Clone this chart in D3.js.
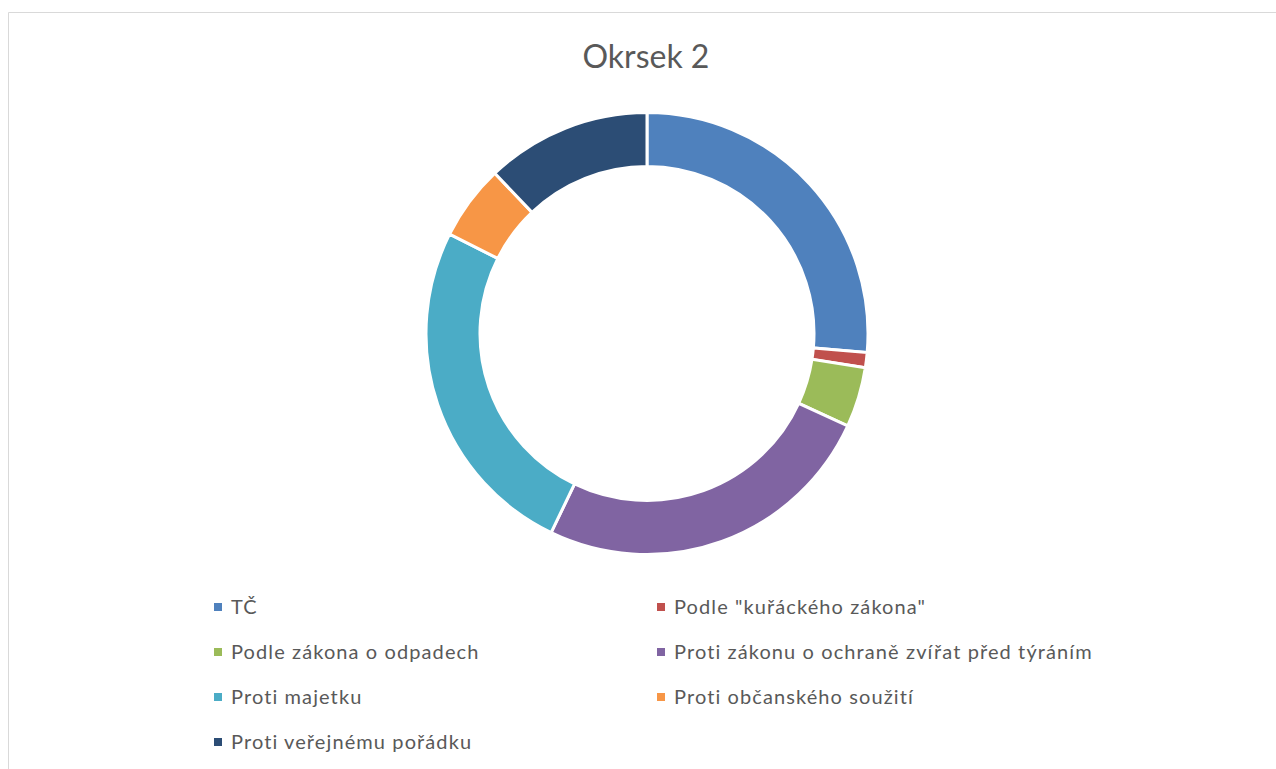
<!DOCTYPE html>
<html>
<head>
    <meta charset="utf-8">
    <title>Okrsek 2</title>
    <style>
        body { margin: 0; background: #fff; }
        .title { font-family: Lato, "Liberation Sans", sans-serif; fill: #595959; }
        .legend text { font-family: Lato, "Liberation Sans", sans-serif; fill: #595959; letter-spacing: 1.1px; }
    </style>
</head>
<body>
    <div class="viz"></div>
    <script src="https://cdnjs.cloudflare.com/ajax/libs/d3/7.8.5/d3.min.js"></script>
    <script>
        // data
        var categories = ["TČ", "Podle \"kuřáckého zákona\"", "Podle zákona o odpadech",
            "Proti zákonu o ochraně zvířat před týráním", "Proti majetku",
            "Proti občanského soužití", "Proti veřejnému pořádku"];
        var values = [24, 1, 4, 23, 23, 5, 11];
        var colors = ["#4f81bd", "#c0504d", "#9bbb59", "#8064a2", "#4bacc6", "#f79646", "#2c4d75"];

        var width = 1276, height = 769;
        var cx = 647, cy = 333.5, outerR = 221, innerR = 167;

        var svg = d3.select('.viz').append('svg')
            .attr('width', width)
            .attr('height', height);

        // chart frame
        svg.append('path')
            .attr('d', 'M8.5,' + height + 'V12.5H' + width)
            .attr('fill', 'none')
            .attr('stroke', '#d9d9d9')
            .attr('stroke-width', 1);

        svg.append('text')
            .attr('class', 'title')
            .attr('x', cx - 1)
            .attr('y', 68)
            .attr('text-anchor', 'middle')
            .attr('font-size', '32px')
            .text('Okrsek 2');

        var pie = d3.pie().sort(null).value(function (d) { return d; });
        var arc = d3.arc().innerRadius(innerR).outerRadius(outerR);

        svg.append('g')
            .attr('transform', 'translate(' + cx + ',' + cy + ')')
            .selectAll('path')
            .data(pie(values))
            .enter().append('path')
            .attr('d', arc)
            .attr('fill', function (d, i) { return colors[i]; })
            .attr('stroke', '#fff')
            .attr('stroke-width', 3)
            .attr('stroke-linejoin', 'miter');

        // legend, two columns
        var colX = d3.scaleOrdinal().domain([0, 1]).range([214, 657]);
        var rowY = d3.scaleLinear().domain([0, 1]).range([607, 652]);

        var legend = svg.append('g')
            .attr('class', 'legend')
            .selectAll('g')
            .data(categories)
            .enter().append('g')
            .attr('transform', function (d, i) {
                return 'translate(' + colX(i % 2) + ',' + rowY(Math.floor(i / 2)) + ')';
            });

        legend.append('rect')
            .attr('x', 0)
            .attr('y', -4)
            .attr('width', 8)
            .attr('height', 8)
            .attr('fill', function (d, i) { return colors[i]; });

        legend.append('text')
            .attr('x', 17)
            .attr('y', 6.5)
            .attr('font-size', '20px')
            .text(function (d) { return d; });
    </script>
</body>
</html>
